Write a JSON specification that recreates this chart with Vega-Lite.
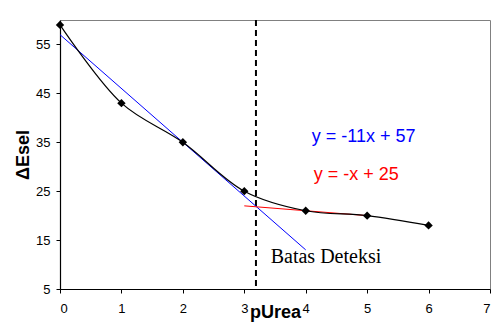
{
  "$schema": "https://vega.github.io/schema/vega-lite/v6.json",
  "autosize": "none",
  "padding": {"left": 60, "top": 20, "right": 3, "bottom": 38},
  "width": 430,
  "height": 269,
  "background": "white",
  "config": {
    "view": {"stroke": "#808080", "strokeWidth": 1},
    "font": "Liberation Sans",
    "axis": {
      "grid": false,
      "domainColor": "black",
      "domainWidth": 1.2,
      "tickColor": "black",
      "tickSize": 4,
      "labelFont": "Liberation Sans",
      "labelFontSize": 13,
      "labelColor": "black",
      "titleFont": "Liberation Sans",
      "titleFontSize": 18,
      "titleFontWeight": "bold",
      "titleColor": "black"
    }
  },
  "datasets": {
    "pts": [
      {"pUrea": 0, "Esel": 59},
      {"pUrea": 1, "Esel": 43},
      {"pUrea": 2, "Esel": 35},
      {"pUrea": 3, "Esel": 25},
      {"pUrea": 4, "Esel": 21},
      {"pUrea": 5, "Esel": 20},
      {"pUrea": 6, "Esel": 18}
    ],
    "blue": [{"pUrea": 0, "Esel": 57}, {"pUrea": 4, "Esel": 13}],
    "red": [{"pUrea": 3, "Esel": 22}, {"pUrea": 5, "Esel": 20}],
    "limit": [{"pUrea": 3.19}],
    "labels": [
      {"pUrea": 4.1, "Esel": 36.1, "label": "y = -11x + 57", "kind": "blue"},
      {"pUrea": 4.13, "Esel": 28.3, "label": "y = -x + 25", "kind": "red"}
    ],
    "batas": [{"pUrea": 3.43, "Esel": 11.5, "label": "Batas Deteksi"}]
  },
  "encoding": {
    "x": {
      "field": "pUrea", "type": "quantitative",
      "scale": {"domain": [0, 7], "nice": false, "zero": false},
      "axis": {"values": [0, 1, 2, 3, 4, 5, 6, 7], "title": "pUrea", "labelPadding": 9,
               "titleY": 23, "titleBaseline": "middle", "format": "d"}
    },
    "y": {
      "field": "Esel", "type": "quantitative",
      "scale": {"domain": [5, 60], "nice": false, "zero": false},
      "axis": {"values": [5, 15, 25, 35, 45, 55], "title": "ΔEsel", "labelPadding": 6,
               "titleX": -37, "titleY": 134.5, "titleAngle": 270, "titleBaseline": "middle", "titleAlign": "center", "format": "d"}
    }
  },
  "layer": [
    {
      "data": {"name": "limit"},
      "mark": {"type": "rule", "color": "black", "strokeWidth": 2, "strokeDash": [6, 4]},
      "encoding": {"y": null}
    },
    {
      "data": {"name": "blue"},
      "mark": {"type": "line", "color": "#0000ff", "strokeWidth": 1}
    },
    {
      "data": {"name": "red"},
      "mark": {"type": "line", "color": "#ff0000", "strokeWidth": 1}
    },
    {
      "data": {"name": "pts"},
      "mark": {"type": "line", "color": "black", "strokeWidth": 1.2, "interpolate": "catmull-rom"}
    },
    {
      "data": {"name": "pts"},
      "mark": {"type": "point", "shape": "diamond", "filled": true, "color": "black", "size": 70, "opacity": 1}
    },
    {
      "data": {"name": "labels"},
      "mark": {"type": "text", "align": "left", "baseline": "middle", "fontSize": 18, "font": "Liberation Sans"},
      "encoding": {
        "text": {"field": "label"},
        "color": {"field": "kind", "type": "nominal", "scale": {"domain": ["blue", "red"], "range": ["#0000ff", "#ff0000"]}, "legend": null}
      }
    },
    {
      "data": {"name": "batas"},
      "mark": {"type": "text", "align": "left", "baseline": "middle", "fontSize": 20, "font": "Liberation Serif", "color": "black"},
      "encoding": {"text": {"field": "label"}}
    }
  ]
}
